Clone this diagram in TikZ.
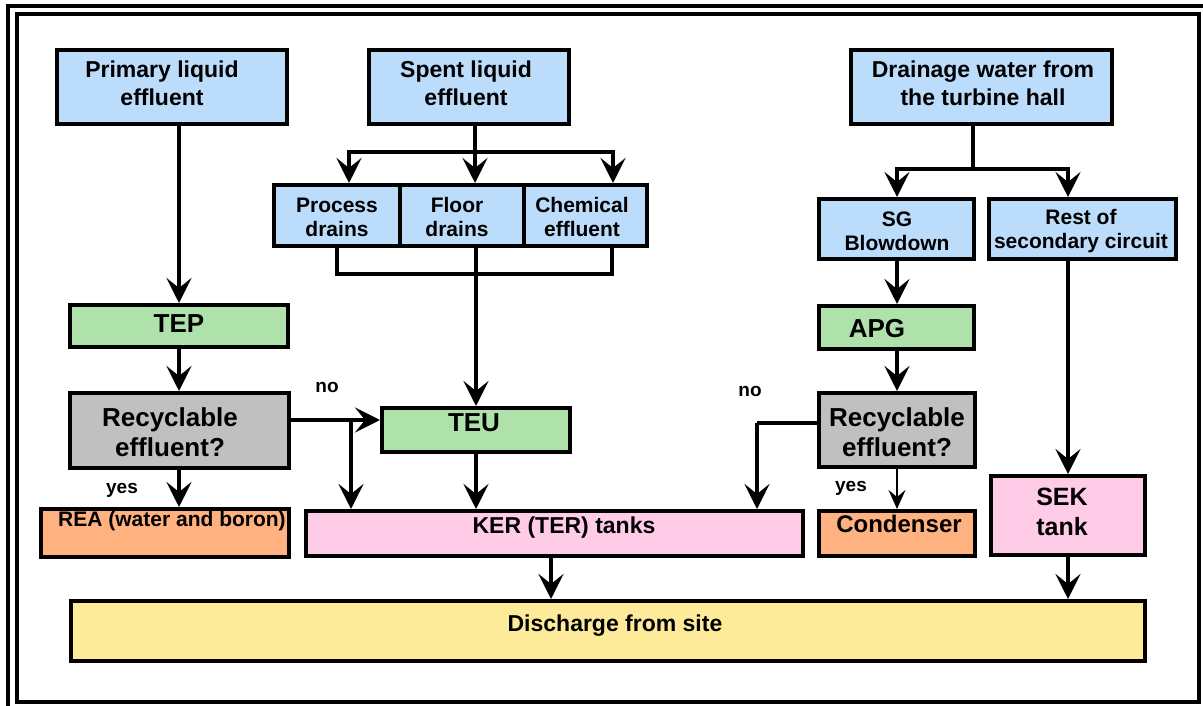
\documentclass[tikz,border=0pt]{standalone}
\usepackage{fontspec}
\setmainfont{Liberation Sans}
\usetikzlibrary{arrows.meta}
\definecolor{cblue}{RGB}{188,220,252}
\definecolor{cgreen}{RGB}{174,226,170}
\definecolor{cgray}{RGB}{192,192,192}
\definecolor{corange}{RGB}{255,178,128}
\definecolor{cpink}{RGB}{255,204,232}
\definecolor{cyellow}{RGB}{253,235,153}
\begin{document}
\begin{tikzpicture}[x=1pt,y=-1pt,
  box/.style={draw, line width=4pt, inner sep=0pt},
  lbl/.style={align=center, inner sep=0pt},
  tA/.style={lbl, font=\fontsize{23}{28}\selectfont\bfseries},
  tB/.style={lbl, font=\fontsize{21}{24}\selectfont\bfseries},
  tC/.style={lbl, font=\fontsize{26}{30}\selectfont\bfseries},
  tD/.style={lbl, font=\fontsize{23}{27}\selectfont\bfseries},
  tE/.style={lbl, font=\fontsize{19}{22}\selectfont\bfseries},
  conn/.style={line width=4pt},
  tip/.tip={Stealth[length=25pt,width=25pt,inset=10pt]},
  smalltip/.tip={Stealth[length=19pt,width=17pt,inset=7pt]},
  arr/.style={conn, -tip}]
\useasboundingbox (0,0) rectangle (1203,706);
% double frame
\draw[line width=4pt] (8,706) -- (8,6) -- (1203,6);
\draw[line width=4pt] (17,14) rectangle (1198.5,701.5);

% sources
\node[box, fill=cblue, minimum width=230pt, minimum height=74pt] (prim) at (172,87) {};
\node[box, fill=cblue, minimum width=200pt, minimum height=74pt] (spent) at (469,87) {};
\node[box, fill=cblue, minimum width=261pt, minimum height=74pt] (drain) at (981.5,87) {};
\node[tA] (primT) at (162,83) {Primary liquid\\effluent};
\node[tA] (spentT) at (466,83) {Spent liquid\\effluent};
\node[tA] (drainT) at (983,83) {Drainage water from\\the turbine hall};

% spent effluent categories
\node[box, fill=cblue, minimum width=126pt, minimum height=61pt] (proc) at (337,215.5) {};
\node[box, fill=cblue, minimum width=124pt, minimum height=61pt] (floor) at (462,215.5) {};
\node[box, fill=cblue, minimum width=123pt, minimum height=61pt] (chem) at (585.5,215.5) {};
\node[tB] (procT) at (337,217) {Process\\drains};
\node[tB] (floorT) at (457,217) {Floor\\drains};
\node[tB] (chemT) at (582,217) {Chemical\\effluent};

% secondary side
\node[box, fill=cblue, minimum width=155pt, minimum height=60pt] (sg) at (896.5,229) {};
\node[box, fill=cblue, minimum width=187pt, minimum height=60pt] (rest) at (1082.5,229) {};
\node[tB] (sgT) at (897,231) {SG\\Blowdown};
\node[tB] (restT) at (1081,231) {Rest of\\secondary circuit};

% treatment stations
\node[box, fill=cgreen, minimum width=218pt, minimum height=42pt] (tep) at (179,326) {};
\node[tC] (tepT) at (179,324) {TEP};
\node[box, fill=cgreen, minimum width=188pt, minimum height=44pt] (teu) at (476,430) {};
\node[tC] (teuT) at (474,423) {TEU};
\node[box, fill=cgreen, minimum width=155pt, minimum height=43pt] (apg) at (896.5,327.5) {};
\node[tC] (apgT) at (877,329) {APG};

% decisions
\node[box, fill=cgray, minimum width=219pt, minimum height=75pt] (rec1) at (179.5,430.5) {};
\node[tC] (rec1T) at (170,432) {Recyclable\\effluent?};
\node[box, fill=cgray, minimum width=156pt, minimum height=74pt] (rec2) at (897,430) {};
\node[tC] (rec2T) at (897,432) {Recyclable\\effluent?};

% destinations
\node[box, fill=corange, minimum width=248pt, minimum height=48pt] (rea) at (165,533) {};
\node[tB] (reaT) at (172,521) {REA (water and boron)};
\node[box, fill=cpink, minimum width=497pt, minimum height=45pt] (ker) at (554.5,533.5) {};
\node[tD] (kerT) at (564,528) {KER (TER) tanks};
\node[box, fill=corange, minimum width=156pt, minimum height=45pt] (cond) at (897,533.5) {};
\node[lbl, font=\fontsize{24}{28}\selectfont\bfseries] (condT) at (899,524) {Condenser};
\node[box, fill=cpink, minimum width=154pt, minimum height=79pt] (sek) at (1068,515.5) {};
\node[lbl, font=\fontsize{25}{30}\selectfont\bfseries] (sekT) at (1062,512) {SEK\\tank};
\node[box, fill=cyellow, minimum width=1074pt, minimum height=60pt] (dis) at (608,631) {};
\node[tD] (disT) at (615,626) {Discharge from site};

% branch and junction points
\coordinate (bm) at (475,152);
\coordinate (bl) at (349,152);
\coordinate (br) at (613,152);
\coordinate (cl) at (337,274);
\coordinate (cr) at (612,274);
\coordinate (dm) at (973,169);
\coordinate (dl) at (897,169);
\coordinate (dr) at (1068,169);
\coordinate (j1) at (351,420);
\coordinate (j2) at (757,423);
\coordinate (kx) at (551,580);

% primary circuit
\draw[arr] (prim.south -| tep.north) -- (tep.north);
\draw[arr] (tep.south) -- (tep.south |- rec1.north);
\draw[arr] (rec1.south -| tep.south) -- (tep.south |- rea.north);
\draw[arr] (rec1.east |- j1) -- (teu.west |- j1);
\draw[arr] (j1) -- (j1 |- ker.north);

% spent effluent
\draw[conn] (spent.south -| bm) -- (bm);
\draw[conn, tip-tip] (bl |- proc.north) -- (bl) -- (br) -- (br |- chem.north);
\draw[arr] (bm) -- (bm |- floor.north);
\draw[conn] (proc.south -| cl) -- (cl) -- (cr) -- (chem.south -| cr);
\draw[arr] (floor.south -| teu.north) -- (teu.north);
\draw[arr] (teu.south) -- (teu.south |- ker.north);
\draw[arr] (ker.south -| kx) -- (kx |- dis.north);

% secondary circuit
\draw[conn] (drain.south -| dm) -- (dm);
\draw[conn, tip-tip] (dl |- sg.north) -- (dl) -- (dr) -- (dr |- rest.north);
\draw[arr] (sg.south -| dl) -- (dl |- apg.north);
\draw[arr] (apg.south -| dl) -- (dl |- rec2.north);
\draw[conn] (rec2.west |- j2) -- (j2);
\draw[arr] (j2) -- (j2 |- ker.north);
\draw[line width=2.2pt, -smalltip] (rec2.south -| dl) -- (dl |- cond.north);
\draw[arr] (rest.south -| sek.north) -- (sek.north);
\draw[arr] (sek.south) -- (sek.south |- dis.north);

% decision labels
\node[tE] (no1) at (327,387) {no};
\node[tE] (yes1) at (122,490) {yes};
\node[tE] (no2) at (750,391) {no};
\node[tE] (yes2) at (851,488) {yes};
\end{tikzpicture}
\end{document}
